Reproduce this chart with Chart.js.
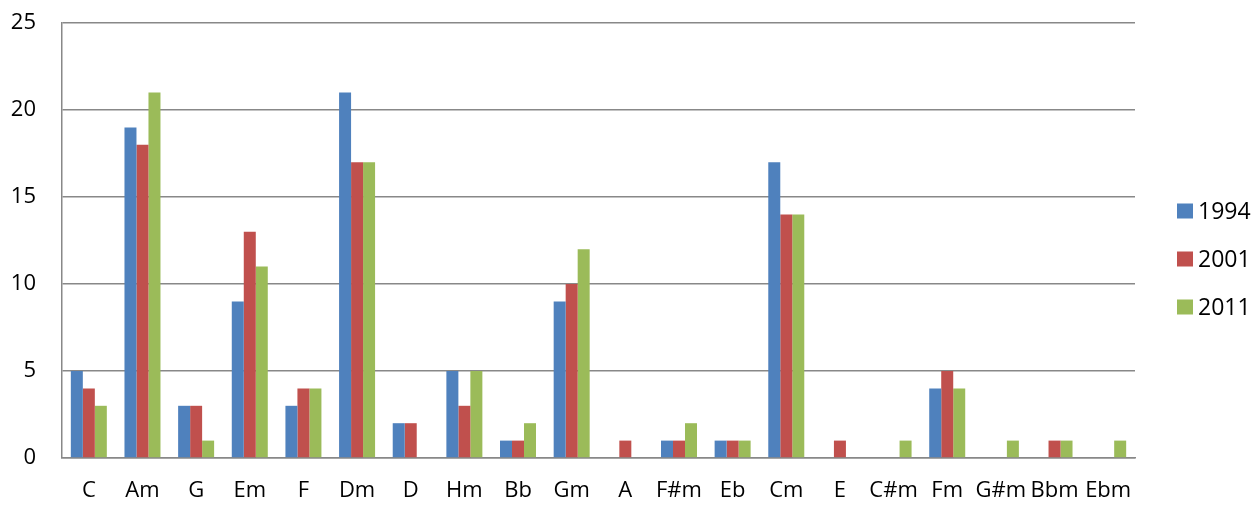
<!DOCTYPE html>
<html>
<head>
<meta charset="utf-8">
<script src="https://cdn.jsdelivr.net/npm/chart.js@4"></script>
<style>
  html, body { margin: 0; padding: 0; background: #ffffff; }
  #wrap { width: 1257px; height: 506px; position: relative; }
</style>
</head>
<body>
<div id="wrap"><canvas id="chart"></canvas></div>
<script>
// Chord keys in order of appearance
const keys = ['C', 'Am', 'G', 'Em', 'F', 'Dm', 'D', 'Hm', 'Bb', 'Gm', 'A', 'F#m', 'Eb', 'Cm', 'E', 'C#m', 'Fm', 'G#m', 'Bbm', 'Ebm'];

// Counts per year
const y1994 = [5, 19, 3, 9, 3, 21, 2, 5, 1, 9, 0, 1, 1, 17, 0, 0, 4, 0, 0, 0];
const y2001 = [4, 18, 3, 13, 4, 17, 2, 3, 1, 10, 1, 1, 1, 14, 1, 0, 5, 0, 1, 0];
const y2011 = [3, 21, 1, 11, 4, 17, 0, 5, 2, 12, 0, 2, 1, 14, 0, 1, 4, 1, 1, 1];

const seriesNames = ['1994', '2001', '2011'];
const yTicks = [0, 5, 10, 15, 20, 25];

const FONT = "'Open Sans', 'DejaVu Sans', sans-serif";

// Legend drawn in a fixed column to the right of the plot
const sideLegend = {
  id: 'sideLegend',
  afterDraw(chart) {
    const ctx = chart.ctx;
    const x = 1177, y0 = 211, step = 48;
    ctx.save();
    ctx.font = '23px ' + FONT;
    ctx.textBaseline = 'middle';
    ctx.textAlign = 'left';
    chart.data.datasets.forEach((ds, i) => {
      const cy = y0 + i * step;
      ctx.fillStyle = ds.backgroundColor;
      ctx.fillRect(x, cy - 7.5, 16, 15);
      ctx.fillStyle = '#000000';
      ctx.fillText(ds.label, x + 21, cy + 1);
    });
    ctx.restore();
  }
};

new Chart(document.getElementById('chart'), {
  type: 'bar',
  data: {
    labels: keys,
    datasets: [
      { label: seriesNames[0], data: y1994, backgroundColor: '#4F81BD' },
      { label: seriesNames[1], data: y2001, backgroundColor: '#C0504D' },
      { label: seriesNames[2], data: y2011, backgroundColor: '#9BBB59' }
    ]
  },
  options: {
    responsive: true,
    maintainAspectRatio: false,
    animation: false,
    layout: { padding: { top: 23, right: 122, bottom: 0, left: 0 } },
    datasets: { bar: { categoryPercentage: 0.671, barPercentage: 1.0 } },
    plugins: {
      legend: { display: false },
      tooltip: { enabled: false }
    },
    scales: {
      x: {
        grid: { display: false, drawTicks: false },
        border: { display: true, color: '#888888', width: 1.5 },
        ticks: {
          color: '#000000',
          font: { family: FONT, size: 22 },
          padding: 20,
          maxRotation: 0,
          autoSkip: false
        },
        afterFit(scale) { scale.height = 48; }
      },
      y: {
        min: 0,
        max: 25,
        afterBuildTicks(scale) { scale.ticks = yTicks.map(v => ({ value: v })); },
        grid: { color: '#888888', lineWidth: 1.5, drawTicks: true, tickLength: 24, tickColor: 'rgba(0,0,0,0)' },
        border: { display: true, color: '#888888', width: 1.5 },
        ticks: {
          color: '#000000',
          font: { family: FONT, size: 22 },
          padding: 2
        },
        afterFit(scale) { scale.width = 62; }
      }
    }
  },
  plugins: [sideLegend]
});
</script>
</body>
</html>
